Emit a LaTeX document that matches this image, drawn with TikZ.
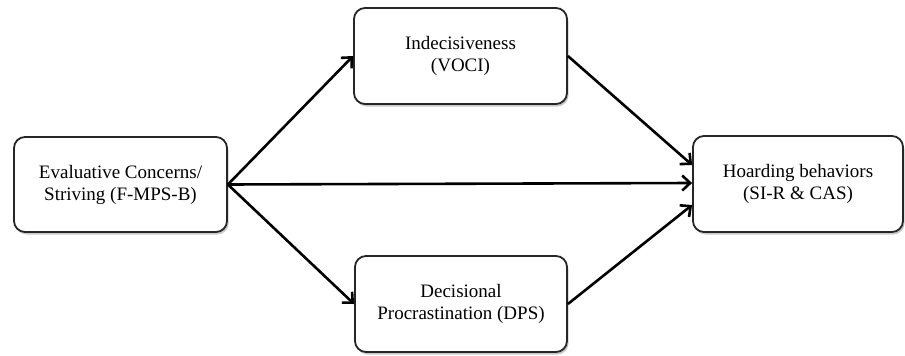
\documentclass[tikz,border=0pt]{standalone}
\usepackage{fontspec}
\setmainfont{Liberation Serif}
\usetikzlibrary{arrows.meta,shadows}
\begin{document}
\begin{tikzpicture}[x=1pt,y=-1pt,
  box/.style={draw=black!85, line width=1.8pt, rounded corners=11pt, fill=white,
    align=center, inner sep=0pt, font=\fontsize{19}{22}\selectfont,
    drop shadow={shadow xshift=1.5pt, shadow yshift=-2.5pt, opacity=0.3, fill=black!70}},
  conn/.style={line width=2.6pt, -{Straight Barb[length=8pt,width=15pt,line width=2.6pt]}}
]
\useasboundingbox (0,0) rectangle (905,356);
\node[box, minimum width=213pt, minimum height=95pt] (L) at (120.5,184.5) {Evaluative Concerns/\\Striving (F-MPS-B)};
\node[box, minimum width=213pt, minimum height=96pt] (T) at (460.5,56) {Indecisiveness\\(VOCI)};
\node[box, minimum width=212pt, minimum height=96pt] (B) at (461,304) {Decisional\\Procrastination (DPS)};
\node[box, minimum width=210pt, minimum height=96pt] (R) at (798,184) {Hoarding behaviors\\(SI-R \& CAS)};
\draw[conn] (L.east) -- (T.west);
\draw[conn] (L.east) -- (B.west);
\draw[conn] (L.east) -- ([yshift=1pt]R.west);
\draw[conn] (T.east) -- ([yshift=19pt]R.west);
\draw[conn] (B.east) -- ([yshift=-21pt]R.west);
\end{tikzpicture}
\end{document}
